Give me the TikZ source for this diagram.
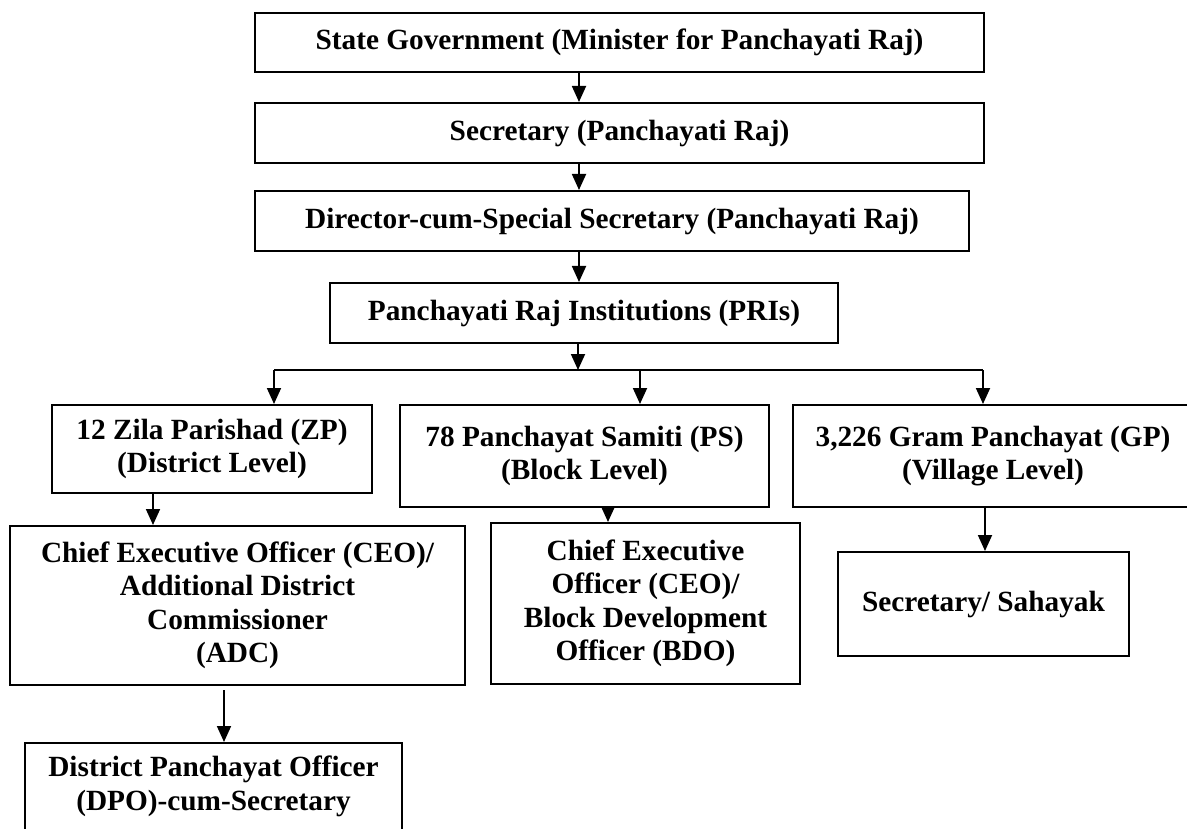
\documentclass[tikz,border=0pt]{standalone}
\usepackage{fontspec}
\setmainfont{Liberation Serif}
\usetikzlibrary{arrows.meta, calc, positioning}
\tikzstyle{box}= [draw=black, line width=2pt, inner sep=0pt, align=center, font=\bfseries\fontsize{29.3}{33.5}\selectfont]
\tikzstyle{link}= [->, line width=1.8pt]

\begin{document}
\begin{tikzpicture}[x=1pt, y=-1pt, >={Triangle[width=14pt,length=16pt]}]
    \useasboundingbox (0,0) rectangle (1187,829);

    % state level chain
    \node [box, minimum width=729, minimum height=59] (Gov) at (619.5,42.5)
    {State Government (Minister for Panchayati Raj)};
    \node [box, minimum width=729, minimum height=60] (Sec) at (619.5,133)
    {Secretary (Panchayati Raj)};
    \node [box, minimum width=714, minimum height=60] (Dir) at (612,221)
    {Director-cum-Special Secretary (Panchayati Raj)};
    \node [box, minimum width=508, minimum height=60] (PRI) at (584,313)
    {Panchayati Raj Institutions (PRIs)};

    % the three tiers
    \node [box, minimum width=320, minimum height=88] (ZP) at (212,449)
    {12 Zila Parishad (ZP)\\(District Level)};
    \node [box, minimum width=369, minimum height=102] (PS) at (584.5,456)
    {78 Panchayat Samiti (PS)\\(Block Level)};
    \node [box, minimum width=400, minimum height=102] (GP) at (993,456)
    {3,226 Gram Panchayat (GP)\\(Village Level)};

    % officers
    \node [box, minimum width=455, minimum height=159] (CEO) at (237.5,605.5)
    {Chief Executive Officer (CEO)/\\Additional District\\Commissioner\\(ADC)};
    \node [box, minimum width=309, minimum height=161] (BDO) at (645.5,603.5)
    {Chief Executive\\Officer (CEO)/\\Block Development\\Officer (BDO)};
    \node [box, minimum width=291, minimum height=104] (Sah) at (983.5,604)
    {Secretary/ Sahayak};
    \node [box, minimum width=377, minimum height=130, anchor=north] (DPO) at (213.5,742) {};
    \node [box, draw=none, anchor=north] (DPOtext) at ([yshift=-13pt]DPO.north)
    {District Panchayat Officer\\(DPO)-cum-Secretary};

    % main spine
    \coordinate (spine) at (579,0);
    \draw[link] (Gov.south -| spine) -- (Sec.north -| spine);
    \draw[link] (Sec.south -| spine) -- (Dir.north -| spine);
    \draw[link] (Dir.south -| spine) -- (PRI.north -| spine);

    % branch bar
    \coordinate (bus) at (578,370);
    \coordinate (zpIn) at (274,370);
    \coordinate (psIn) at (640,370);
    \coordinate (gpIn) at (983,370);
    \draw[link] (PRI.south -| bus) -- (bus);
    \draw[line width=1.8pt] (zpIn) -- (gpIn);
    \foreach \c/\n in {zpIn/ZP, psIn/PS, gpIn/GP}
        \draw[link] (\c) -- (\c |- \n.north);

    % down to the officers
    \coordinate (zpOut) at (153,0);
    \coordinate (psOut) at (608,0);
    \coordinate (gpOut) at (985,0);
    \coordinate (ceoOut) at (224,690);
    \draw[link] (ZP.south -| zpOut) -- (CEO.north -| zpOut);
    \draw[link] (PS.south -| psOut) -- (BDO.north -| psOut);
    \draw[link] (GP.south -| gpOut) -- (Sah.north -| gpOut);
    \draw[link] (ceoOut) -- (DPO.north -| ceoOut);

\end{tikzpicture}
\end{document}
